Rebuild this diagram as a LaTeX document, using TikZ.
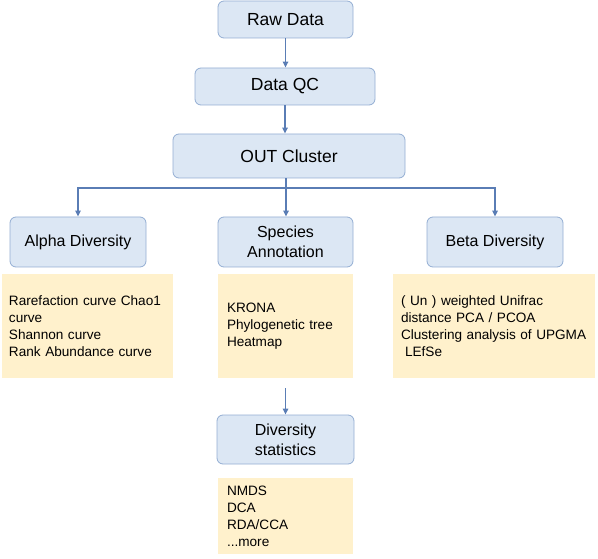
\documentclass[tikz,border=0pt]{standalone}
\usepackage{fontspec}
\setmainfont{Liberation Sans}
\usetikzlibrary{arrows.meta}
\definecolor{stagefill}{HTML}{DCE7F4}
\definecolor{stageline}{HTML}{93AED3}
\definecolor{notefill}{HTML}{FFF1CC}
\definecolor{flowblue}{HTML}{5A7DB5}

\begin{document}
\begin{tikzpicture}[x=1pt, y=-1pt,
    stage/.style={draw=stageline, fill=stagefill, rounded corners=6pt, line width=0.8pt, align=center, inner sep=0pt},
    bigtext/.style={font=\fontsize{17.5pt}{21pt}\selectfont},
    midtext/.style={font=\fontsize{16pt}{20pt}\selectfont},
    note/.style={fill=notefill, align=left, inner ysep=0pt, font=\fontsize{13.6pt}{17pt}\selectfont},
    flow/.style={draw=flowblue, line width=1.3pt, -{Triangle[length=6pt,width=5.5pt]}}]
    \useasboundingbox (0,0) rectangle (598,559);
    \node[stage, bigtext, minimum width=135pt, minimum height=37pt] (raw) at (285.5,19.5) {Raw Data};
    \node[stage, bigtext, minimum width=180pt, minimum height=37pt] (qc) at (285,86.5) {Data QC};
    \node[stage, bigtext, minimum width=232pt, minimum height=44pt] (otu) at (289,156) {OUT Cluster};
    \node[stage, midtext, minimum width=136pt, minimum height=50pt] (alpha) at (78,242) {Alpha Diversity};
    \node[stage, midtext, minimum width=135pt, minimum height=50pt] (species) at (285.5,242) {Species\\Annotation};
    \node[stage, midtext, minimum width=136pt, minimum height=50pt] (beta) at (495,242) {Beta Diversity};
    \node[note, inner xsep=7pt, text width=157pt, minimum height=104pt] (alphanote) at (87.5,326)
        {Rarefaction curve Chao1\\curve\\Shannon curve\\Rank Abundance curve};
    \node[note, inner xsep=9pt, text width=117pt, minimum height=104pt] (speciesnote) at (285.5,326)
        {KRONA\\Phylogenetic tree\\Heatmap};
    \node[note, inner xsep=8pt, text width=186pt, minimum height=104pt] (betanote) at (494,326)
        {( Un ) weighted Unifrac\\distance PCA / PCOA\\Clustering analysis of UPGMA\\\hspace{0.3em}LEfSe};
    \node[stage, midtext, minimum width=137pt, minimum height=49pt] (stats) at (285.5,439.5) {Diversity\\statistics};
    \node[note, inner xsep=9pt, text width=117pt, minimum height=76pt] (statsnote) at (285.5,516)
        {NMDS\\DCA\\RDA/CCA\\...more};
    \coordinate (split) at (286,188);
    \draw[flow] (raw.south) -- (raw.south |- qc.north);
    \draw[flow] (qc.south) -- (qc.south |- otu.north);
    \draw[flow] (otu.south -| split) -- (split) -| (alpha.north);
    \draw[flow] (split) -| (beta.north);
    \draw[flow] (split) -- (split |- species.north);
    \draw[flow, shorten <=10pt] (speciesnote.south) -- (stats.north);
\end{tikzpicture}
\end{document}
